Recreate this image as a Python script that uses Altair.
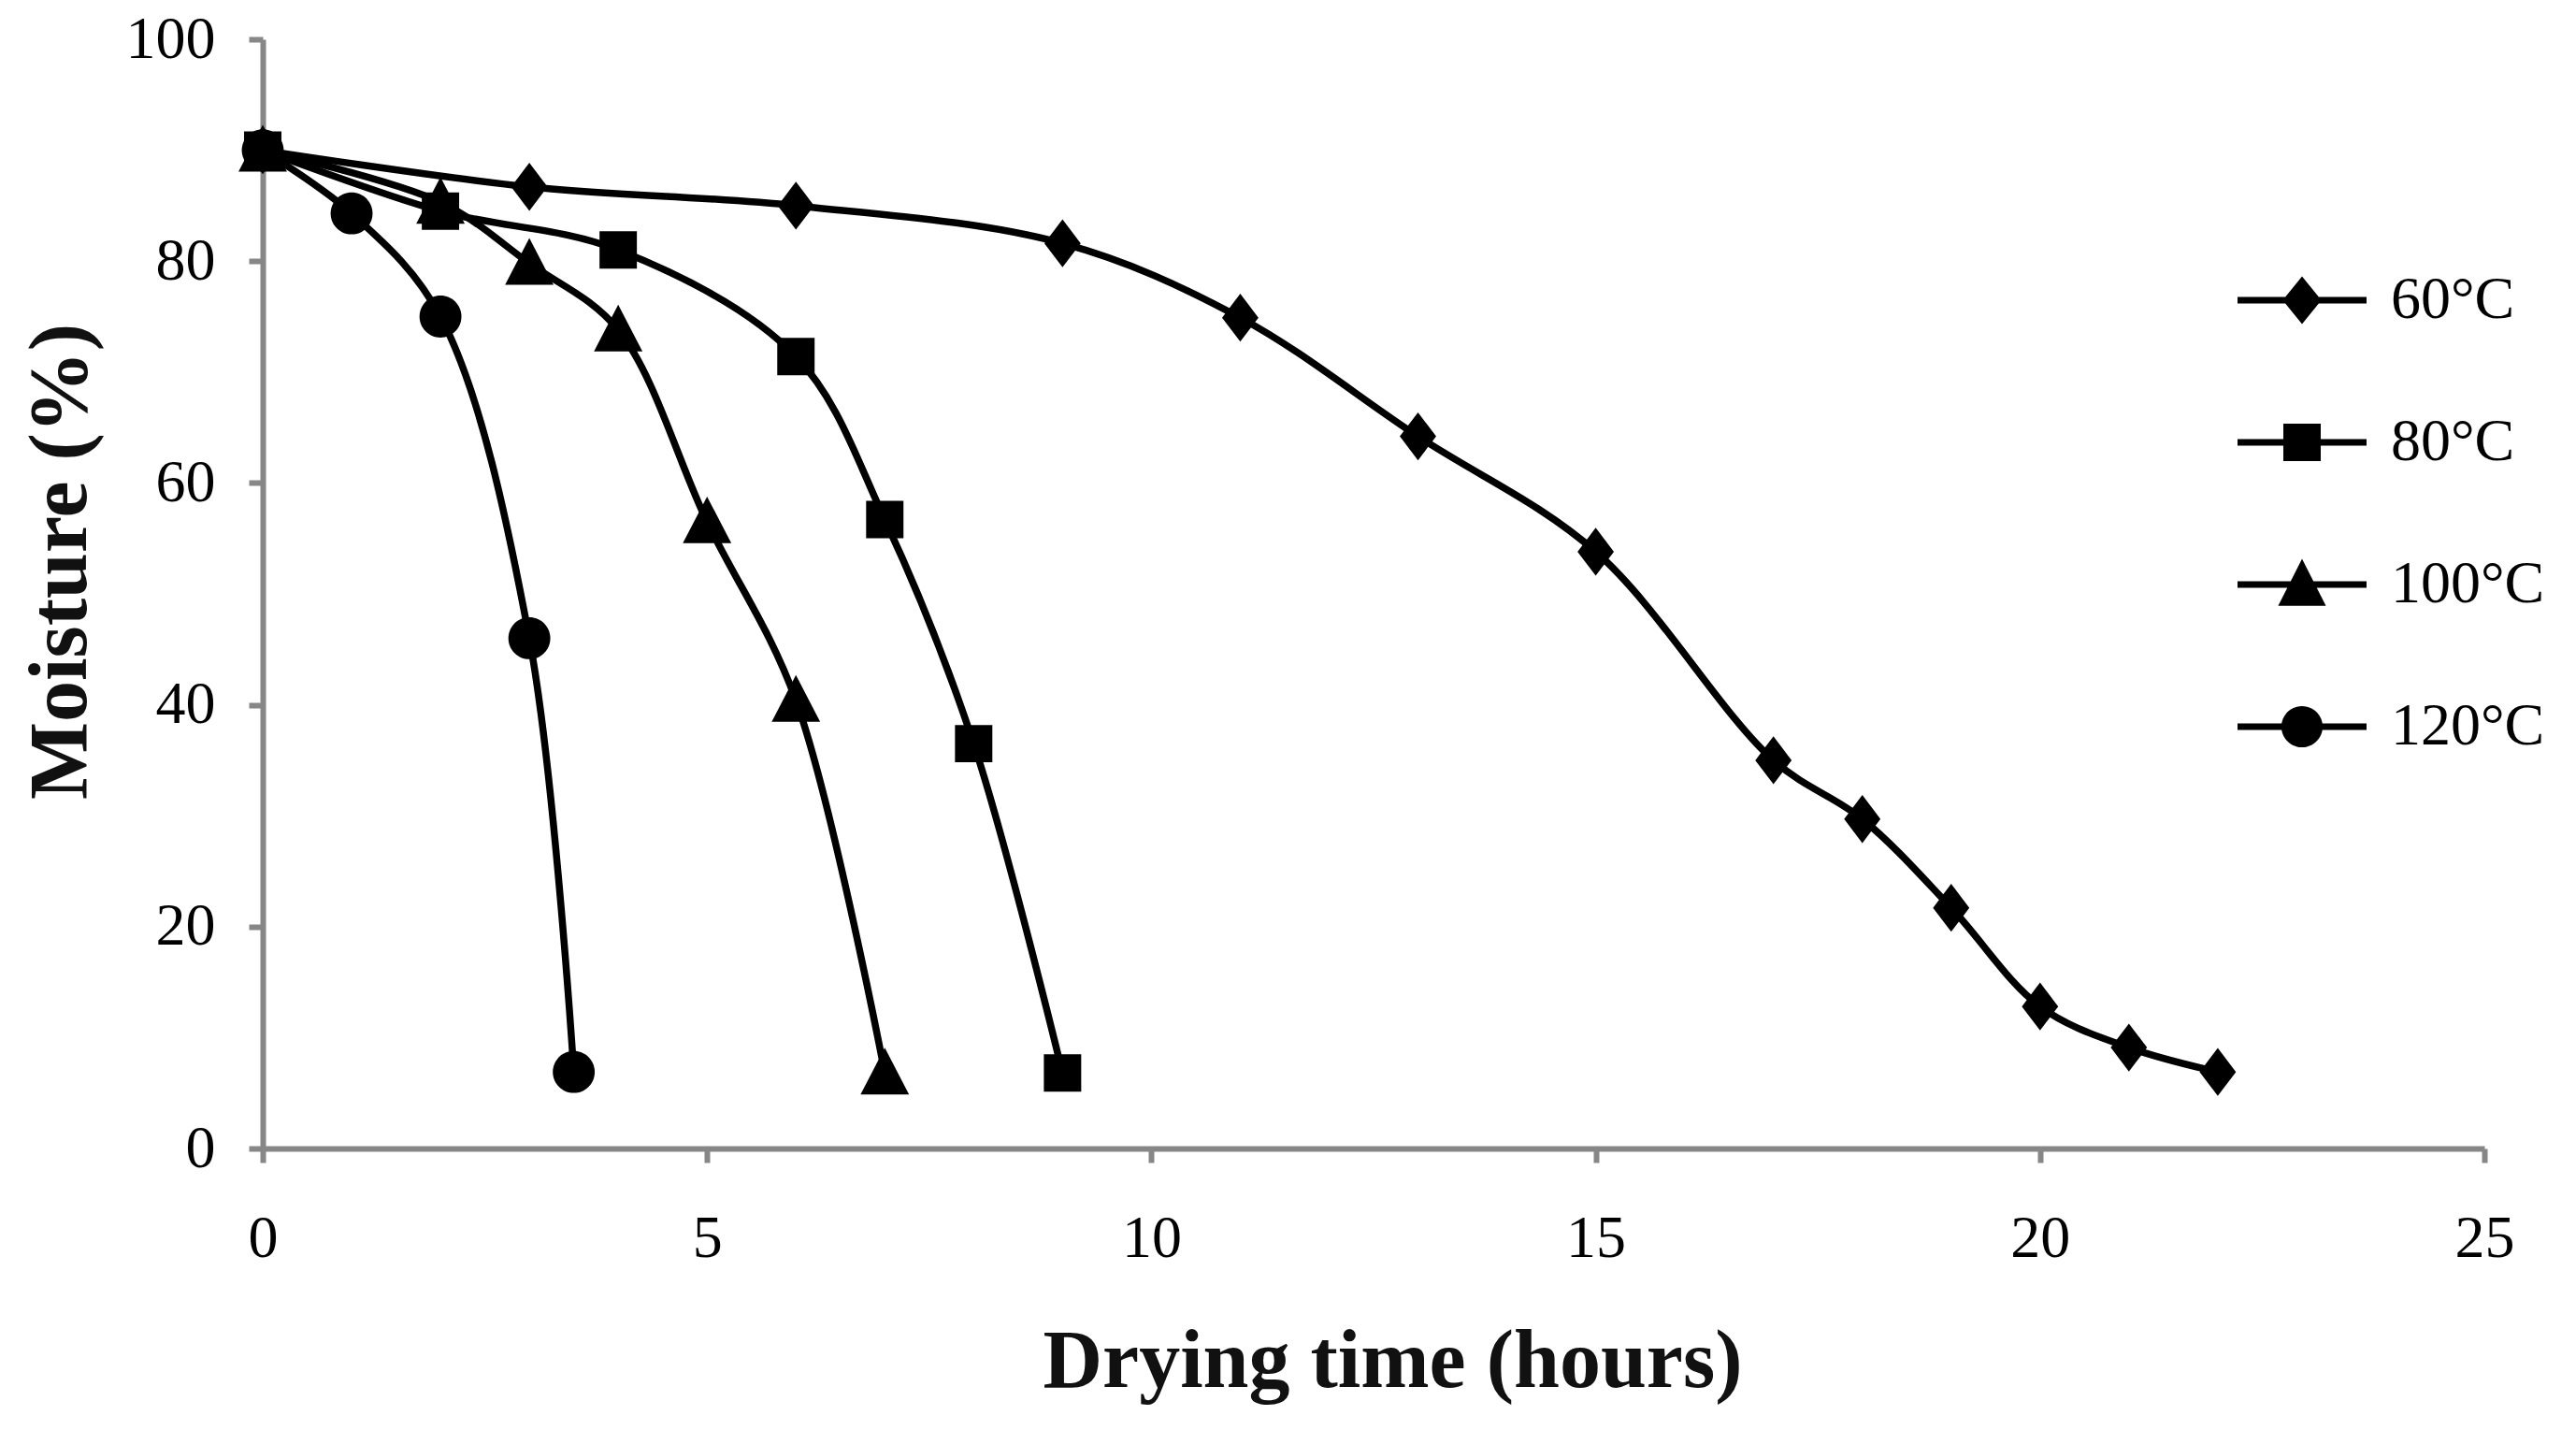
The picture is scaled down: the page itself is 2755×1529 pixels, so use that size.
import pandas as pd
import altair as alt

# drying curves: hours -> moisture (%)
series = ["60°C", "80°C", "100°C", "120°C"]

hours_60 = [0, 3, 6, 9, 11, 13, 15, 17, 18, 19, 20, 21, 22]
moist_60 = [90, 86.7, 85.0, 81.6, 74.9, 64.2, 53.8, 35.0, 29.7, 21.7, 12.8, 9.1, 6.9]

hours_80 = [0, 2, 4, 6, 7, 8, 9]
moist_80 = [90, 84.5, 81.0, 71.4, 56.7, 36.5, 6.8]

hours_100 = [0, 2, 3, 4, 5, 6, 7]
moist_100 = [90, 85.3, 79.8, 73.8, 56.5, 40.4, 6.8]

hours_120 = [0, 1, 2, 3, 3.5]
moist_120 = [90, 84.3, 75.0, 46.0, 6.9]

x_ticks = [0, 5, 10, 15, 20, 25]
y_ticks = [0, 20, 40, 60, 80, 100]

# Excel-like markers, drawn in the -1..1 unit box
marker_shapes = [
    "M0,-0.95L0.72,0L0,0.95L-0.72,0Z",
    "M-0.74,-0.74H0.74V0.74H-0.74Z",
    "M0,-1L0.96,0.85L-0.96,0.85Z",
    "M-0.83,0A0.83,0.83 0 1,1 0.83,0A0.83,0.83 0 1,1 -0.83,0Z",
]

# legend symbols: a short line with the marker in the middle
LINE = "M-1,-0.05H1V0.05H-1Z"
legend_shapes = [
    LINE + "M0,-0.37L0.3,0L0,0.37L-0.3,0Z",
    LINE + "M-0.29,-0.29H0.29V0.29H-0.29Z",
    LINE + "M0,-0.4L0.37,0.33L-0.37,0.33Z",
    LINE + "M-0.32,0A0.32,0.32 0 1,1 0.32,0A0.32,0.32 0 1,1 -0.32,0Z",
]

frames = []
for name, hrs, vals in [
    (series[0], hours_60, moist_60),
    (series[1], hours_80, moist_80),
    (series[2], hours_100, moist_100),
    (series[3], hours_120, moist_120),
]:
    frames.append(pd.DataFrame({"series": name, "hours": hrs, "moisture": vals}))
df = pd.concat(frames, ignore_index=True)

AXIS_GREY = "#878787"
SERIF = "Liberation Serif"

x_enc = alt.X(
    "hours:Q",
    scale=alt.Scale(domain=[0, 25], nice=False),
    axis=alt.Axis(
        values=x_ticks, title="Drying time (hours)", grid=False, labelFlush=False,
        titleX=1208, titleY=254, titleBaseline="alphabetic", titleAlign="center",
        labelPadding=49,
    ),
)
y_enc = alt.Y(
    "moisture:Q",
    scale=alt.Scale(domain=[0, 100], nice=False),
    axis=alt.Axis(
        values=y_ticks, title="Moisture (%)", grid=False, labelFlush=False,
        titleX=-190, titleY=558, titleBaseline="alphabetic", titleAlign="center",
        labelPadding=36,
    ),
)

base = alt.Chart(df)

lines = base.mark_line(color="black", strokeWidth=7.5, interpolate="catmull-rom").encode(
    x=x_enc, y=y_enc, detail="series:N"
)

points = base.mark_point(filled=True, color="black", opacity=1, size=2916).encode(
    x=x_enc,
    y=y_enc,
    shape=alt.Shape("series:N", scale=alt.Scale(domain=series, range=marker_shapes), legend=None),
)

legend_layer = (
    base.transform_filter(alt.datum.hours < 0)
    .mark_point(filled=True, color="black", opacity=1, size=19044)
    .encode(
        x=x_enc,
        y=y_enc,
        shape=alt.Shape(
            "series:N",
            scale=alt.Scale(domain=series, range=legend_shapes),
            legend=alt.Legend(
                title=None, orient="none", legendX=2112, legendY=210,
                symbolSize=19044, symbolFillColor="black", symbolStrokeWidth=0,
                symbolOpacity=1, labelOffset=26, rowPadding=51, padding=0,
                labelFont=SERIF, labelFontSize=64, labelColor="black", labelLimit=400,
            ),
        ),
    )
)

chart = (
    alt.layer(lines, points, legend_layer)
    .resolve_scale(shape="independent")
    .properties(
        width=2376, height=1186,
        autosize=alt.AutoSizeParams(type="none"),
        padding={"left": 273, "top": 34, "right": 90, "bottom": 290},
        background="white",
    )
    .configure_view(stroke=None)
    .configure_axis(
        domainColor=AXIS_GREY, domainWidth=6, tickColor=AXIS_GREY, tickWidth=6,
        tickSize=15, labelFont=SERIF, labelFontSize=64, labelColor="black",
        titleFont=SERIF, titleFontSize=88, titleFontWeight="bold", titleColor="#111111",
    )
)

chart.save("out.html", embed_options={"renderer": "svg", "actions": False})
